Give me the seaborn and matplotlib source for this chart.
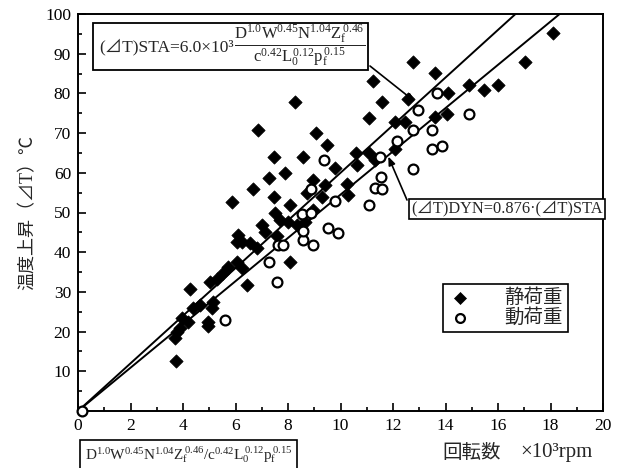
import numpy as np
import pandas as pd
import matplotlib
matplotlib.use("Agg")
import matplotlib.pyplot as plt
from matplotlib.patches import Rectangle
from matplotlib.ticker import MultipleLocator, FuncFormatter
import seaborn as sns

# ---- data ----
sta_x = [3.73, 3.70, 3.76, 3.89, 3.95, 4.20, 4.27, 4.39, 4.65, 4.97, 4.97, 5.09, 5.16,
         5.03, 5.28, 5.54, 5.73, 6.04, 6.23, 6.43, 6.04, 6.11, 6.23, 6.55, 6.81, 7.00,
         7.12, 7.50, 7.70, 8.01, 7.57, 8.33, 8.65, 8.96, 8.08, 8.08, 7.47, 5.87, 6.65,
         7.29, 7.89, 7.47, 8.58, 6.87, 8.27, 9.07, 9.47, 9.79, 8.96, 9.41, 8.71, 9.28,
         10.24, 10.27, 10.59, 11.09, 10.62, 11.31, 11.25, 11.57, 11.10, 12.08, 12.46,
         12.08, 12.58, 12.77, 13.60, 13.60, 14.06, 14.08, 14.88, 15.48, 16.00, 17.03, 18.10]
sta_y = [12.7, 18.5, 20.0, 20.8, 23.3, 22.5, 30.8, 25.9, 26.7, 21.4, 22.5, 25.9, 27.5,
         32.4, 33.2, 34.7, 36.3, 37.6, 35.9, 31.7, 42.6, 44.3, 42.6, 42.2, 41.0, 46.9,
         45.2, 49.8, 48.1, 47.7, 44.0, 46.9, 47.7, 50.6, 37.6, 51.9, 53.8, 52.7, 55.8,
         58.8, 59.9, 63.9, 63.9, 70.8, 77.9, 69.9, 67.0, 61.1, 58.2, 56.9, 54.8, 54.0,
         57.3, 54.4, 64.9, 64.9, 62.0, 63.2, 83.0, 77.9, 73.7, 72.9, 72.9,
         66.1, 78.7, 88.0, 85.1, 74.1, 74.7, 80.0, 82.0, 80.9, 82.0, 88.0, 95.1]

dyn_x = [0.15, 5.60, 7.57, 7.28, 7.63, 7.82, 8.58, 8.96, 8.58, 9.54, 9.90, 8.52, 8.87,
         8.87, 9.39, 9.79, 11.08, 11.31, 11.57, 11.55, 11.49, 12.17, 12.77, 12.77,
         13.47, 13.47, 13.87, 12.96, 13.66, 14.88]
dyn_y = [0.0, 22.9, 32.6, 37.6, 41.8, 41.8, 43.1, 41.8, 45.4, 46.0, 44.9, 49.6, 49.8,
         56.0, 63.2, 53.0, 51.9, 56.1, 55.9, 59.0, 64.1, 67.9, 61.0, 70.8,
         70.8, 66.0, 66.8, 75.8, 80.0, 74.7]

sta_slope = 6.0
dyn_slope = 5.45
x_range = [0, 20]

legend_labels = ["静荷重", "動荷重"]
x_ticks = list(range(0, 21, 2))
y_ticks = list(range(0, 101, 10))

# ---- style ----
sns.set_style("ticks")
plt.rcParams["font.family"] = ["Liberation Serif", "Noto Sans CJK JP"]
plt.rcParams["mathtext.fontset"] = "custom"
plt.rcParams["mathtext.rm"] = "Liberation Serif"
plt.rcParams["mathtext.it"] = "Liberation Serif:italic"
plt.rcParams["mathtext.bf"] = "Liberation Serif:bold"
FAM = ["Liberation Serif", "Noto Sans CJK JP"]

fig = plt.figure(figsize=(6.29, 4.68), dpi=100)
ax = fig.add_axes([78 / 629, 1 - 411 / 468, 525 / 629, 397 / 468])

sta = pd.DataFrame({"x": sta_x, "y": sta_y})
dyn = pd.DataFrame({"x": dyn_x, "y": dyn_y})

# regression lines
lx = np.linspace(x_range[0], x_range[1], 50)
lines = pd.DataFrame({"x": np.concatenate([lx, lx]),
                      "y": np.concatenate([sta_slope * lx, dyn_slope * lx]),
                      "g": ["sta"] * len(lx) + ["dyn"] * len(lx)})
sns.lineplot(data=lines, x="x", y="y", units="g", estimator=None, color="black",
             lw=1.4, ax=ax, legend=False, zorder=2)

sns.scatterplot(data=sta, x="x", y="y", marker="D", s=46, color="black",
                edgecolor="black", linewidth=0.5, ax=ax, zorder=3, label=legend_labels[0])
sns.scatterplot(data=dyn, x="x", y="y", marker="o", s=50, facecolor="white",
                edgecolor="black", linewidth=1.6, ax=ax, zorder=3, label=legend_labels[1],
                clip_on=False)

ax.set_xlim(0, 20)
ax.set_ylim(0, 100)
ax.set_xticks(x_ticks)
ax.set_yticks(y_ticks)
ax.xaxis.set_minor_locator(MultipleLocator(1))
ax.yaxis.set_minor_locator(MultipleLocator(5))
ax.yaxis.set_major_formatter(FuncFormatter(lambda v, p: "" if v == 0 else f"{int(v)}"))
ax.tick_params(which="both", direction="in", top=False, right=False, width=1.2,
               labelsize=12.5, colors="black")
ax.tick_params(which="major", length=6, pad=5)
ax.tick_params(which="minor", length=3)
for s in ax.spines.values():
    s.set_linewidth(1.4)
    s.set_color("black")
    s.set_visible(True)
ax.set_xlabel("")
ax.set_ylabel("温度上昇（⊿T）℃", fontsize=13, family=FAM, labelpad=6)

# legend
leg = ax.legend(loc="upper left", bbox_to_anchor=((443 - 78) / 525, (411 - 284) / 397),
                borderaxespad=0, frameon=True, fancybox=False, edgecolor="black",
                framealpha=1, handlelength=1.2, handletextpad=1.7, borderpad=0.25,
                labelspacing=0.05, prop={"family": FAM, "size": 14}, markerscale=0.9)
leg.get_frame().set_linewidth(1.2)

# STA formula box
ax.add_patch(Rectangle(((93 - 78) / 525, (411 - 70) / 397), (368 - 93) / 525, 47 / 397,
                       transform=ax.transAxes, fc="white", ec="black", lw=1.3, zorder=5))
ax.text((99 - 78) / 525, (411 - 47) / 397, "(⊿T)STA=6.0×10³", transform=ax.transAxes,
        ha="left", va="center", fontsize=12.5, family=FAM, zorder=6)
ax.text((300 - 78) / 525, (411 - 46) / 397,
        r"$\dfrac{\mathrm{D^{1.0}W^{0.45}N^{1.04}Z_f^{\,0.46}}}{\mathrm{c^{0.42}L_0^{\,0.12}p_f^{\,0.15}}}$",
        transform=ax.transAxes, ha="center", va="center", fontsize=12, zorder=6)
ax.annotate("", xy=(12.84, 77.9), xytext=((370 - 78) / 525, (411 - 66) / 397),
            xycoords="data", textcoords="axes fraction",
            arrowprops=dict(arrowstyle="-|>,head_length=0.5,head_width=0.2", color="black",
                            lw=1.2, shrinkA=0, shrinkB=0), zorder=6)

# DYN box
ax.text((411 - 78) / 525, (411 - 209) / 397, "(⊿T)DYN=0.876·(⊿T)STA", transform=ax.transAxes,
        ha="left", va="center", fontsize=11.8, family=FAM, zorder=6,
        bbox=dict(boxstyle="square,pad=0.12", fc="white", ec="black", lw=1.2))
ax.annotate("", xy=(11.82, 64.1), xytext=((407 - 78) / 525, (411 - 200) / 397),
            xycoords="data", textcoords="axes fraction",
            arrowprops=dict(arrowstyle="-|>,head_length=0.5,head_width=0.2", color="black",
                            lw=1.2, shrinkA=0, shrinkB=0), zorder=6)

# bottom labels
fig.text(85 / 629, 1 - 455 / 468,
         r"$\mathrm{D^{1.0}W^{0.45}N^{1.04}Z_f^{\,0.46}/c^{0.42}L_0^{\,0.12}p_f^{\,0.15}}$",
         ha="left", va="center", fontsize=11,
         bbox=dict(boxstyle="square,pad=0.3", fc="white", ec="black", lw=1.2))
fig.text(442 / 629, 1 - 453 / 468, "回転数", ha="left", va="center",
         fontsize=14, family=FAM)
fig.text(520 / 629, 1 - 453 / 468, "×10³rpm", ha="left", va="center",
         fontsize=15, family=FAM)

fig.savefig("out.png", dpi=100)
